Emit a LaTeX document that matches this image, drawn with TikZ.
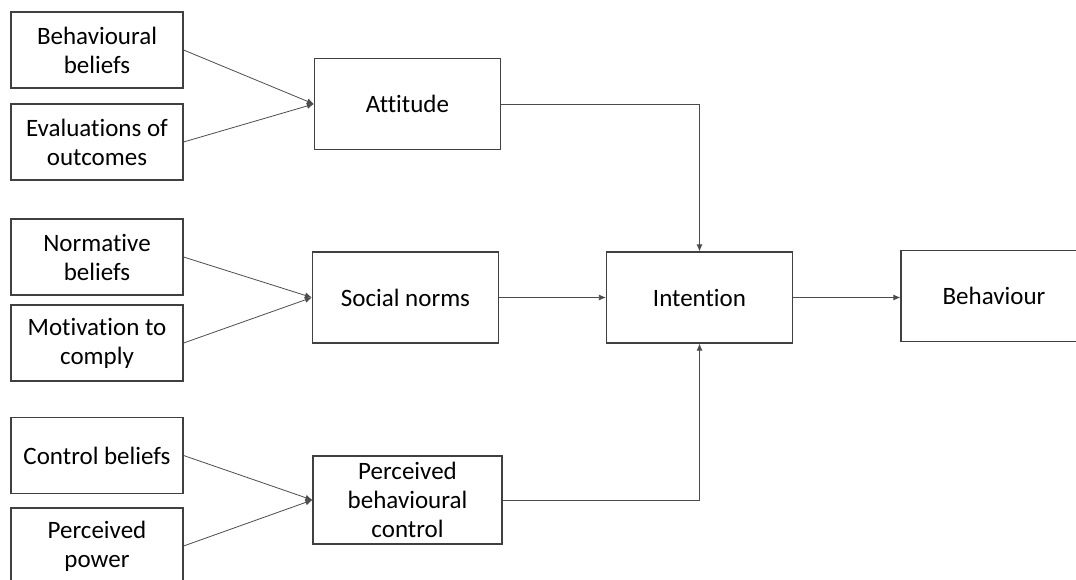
\documentclass[tikz,border=0pt]{standalone}
\usepackage{fontspec}
\setmainfont[Ligatures=NoCommon]{Carlito}
\usetikzlibrary{arrows.meta}

\begin{document}
\begin{tikzpicture}[x=1pt,y=-1pt,
        box/.style={draw=black!75, line width=1.2pt, align=center, inner sep=0pt,
            font=\fontsize{25}{29}\selectfont},
        leftbox/.style={box, minimum width=172pt, minimum height=76pt},
        midbox/.style={box, minimum width=186pt, minimum height=91pt},
        link/.style={draw=black!70, line width=0.8pt, -{Latex[length=7pt,width=6pt]}}]
            \clip (0,0) rectangle (1076,580);
            % inputs
            \node (bb) at (97,50) [leftbox] {Behavioural\\beliefs};
            \node (eo) at (97,142) [leftbox] {Evaluations of\\outcomes};
            \node (nb) at (97,257) [leftbox] {Normative\\beliefs};
            \node (mc) at (97,343) [leftbox] {Motivation to\\comply};
            \node (cb) at (97,455.5) [leftbox] {Control beliefs};
            \node (pp) at (97,546) [leftbox] {Perceived\\power};
            % constructs
            \node (att) at (407.5,104) [midbox] {Attitude};
            \node (sn) at (405.5,297.5) [midbox] {Social norms};
            \node (pbc) at (407.5,500) [midbox, minimum width=189pt, minimum height=88pt] {Perceived\\behavioural\\control};
            \node (int) at (699.5,297.5) [midbox] {Intention};
            \node (beh) at (994,296) [midbox] {Behaviour};
            % arrows
            \draw[link] (bb.east) -- (att.west);
            \draw[link] (eo.east) -- (att.west);
            \draw[link] (nb.east) -- (sn.west);
            \draw[link] (mc.east) -- (sn.west);
            \draw[link] (cb.east) -- (pbc.west);
            \draw[link] (pp.east) -- (pbc.west);
            \draw[link] (att.east) -| (int.north);
            \draw[link] (sn.east) -- (int.west);
            \draw[link] (pbc.east) -| (int.south);
            \draw[link] (int.east) -- (int.east -| beh.west);
        \end{tikzpicture}
\end{document}
